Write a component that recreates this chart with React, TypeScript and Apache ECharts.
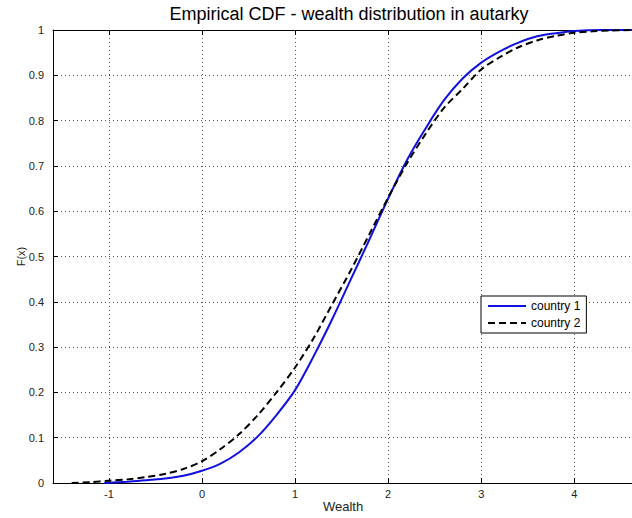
import React, { useEffect, useRef } from "react";
import * as echarts from "echarts";

const titleText = "Empirical CDF - wealth distribution in autarky";
const xName = "Wealth";
const yName = "F(x)";
const seriesNames = ["country 1", "country 2"];

// country 1 (blue, solid)
const wealth1 = [-1.05, -0.8, -0.6, -0.4, -0.2, 0, 0.2, 0.4, 0.6, 0.8, 1.0, 1.2, 1.4, 1.6, 1.8, 2.0, 2.2, 2.4, 2.6, 2.8, 3.0, 3.2, 3.4, 3.6, 3.8, 4.0, 4.3, 4.63];
const cdf1 = [0, 0.003, 0.006, 0.01, 0.016, 0.027, 0.043, 0.068, 0.103, 0.15, 0.205, 0.28, 0.362, 0.45, 0.538, 0.628, 0.712, 0.782, 0.845, 0.893, 0.928, 0.953, 0.972, 0.986, 0.993, 0.998, 1.0, 1.0];

// country 2 (black, dashed)
const wealth2 = [-1.4, -1.2, -1.0, -0.8, -0.6, -0.4, -0.2, 0, 0.2, 0.4, 0.6, 0.8, 1.0, 1.2, 1.4, 1.6, 1.8, 2.0, 2.2, 2.4, 2.6, 2.8, 3.0, 3.2, 3.4, 3.6, 3.8, 4.0, 4.2, 4.4, 4.63];
const cdf2 = [0, 0.002, 0.005, 0.008, 0.013, 0.02, 0.031, 0.048, 0.075, 0.108, 0.15, 0.2, 0.255, 0.32, 0.395, 0.47, 0.55, 0.63, 0.705, 0.77, 0.828, 0.87, 0.913, 0.94, 0.962, 0.977, 0.987, 0.994, 0.997, 0.999, 1.0];

const FONT = "'Liberation Sans', Arial, sans-serif";

export default function App() {
  const ref = useRef<HTMLDivElement>(null);
  useEffect(() => {
    if (!ref.current) return;
    const chart = echarts.init(ref.current, undefined, { renderer: "svg" });
    const d1 = wealth1.map((x, i) => [x, cdf1[i]]);
    const d2 = wealth2.map((x, i) => [x, cdf2[i]]);
    const gridLine = { show: true, lineStyle: { color: "#555", type: [1, 3], width: 1 } };
    const tick = { show: true, inside: true, length: 5, lineStyle: { color: "#000" } };
    chart.setOption({
      animation: false,
      backgroundColor: "#fff",
      textStyle: { fontFamily: FONT },
      title: {
        text: titleText,
        left: 344,
        textAlign: "center",
        top: 0,
        padding: [5, 5],
        textStyle: { fontFamily: FONT, fontSize: 18, fontWeight: "normal", color: "#000" },
      },
      legend: {
        left: 481,
        top: 296,
        orient: "vertical",
        backgroundColor: "#fff",
        borderColor: "#000",
        borderWidth: 1,
        borderRadius: 0,
        padding: [4, 6, 4, 6],
        itemGap: 5,
        itemWidth: 38,
        itemHeight: 12,
        itemStyle: { opacity: 0, color: "transparent", borderColor: "transparent", borderWidth: 0 },
        textStyle: { fontFamily: FONT, fontSize: 12, color: "#000" },
        data: seriesNames,
      },
      grid: { left: 53, right: -1, top: 30, bottom: 35, containLabel: false, outerBoundsMode: "none" },
      xAxis: [
        {
          type: "value",
          min: -1.6,
          max: 4.63,
          minInterval: 1,
          maxInterval: 1,
          splitNumber: 6,
          name: xName,
          nameLocation: "middle",
          nameGap: 17,
          nameMoveOverlap: false,
          nameTextStyle: { fontFamily: FONT, fontSize: 13, color: "#222", verticalAlign: "top" },
          axisLine: { show: true, onZero: false, lineStyle: { color: "#000", width: 1 } },
          axisTick: tick,
          axisLabel: { showMinLabel: false, showMaxLabel: false, fontFamily: FONT, fontSize: 11, color: "#222", margin: 5 },
          splitLine: gridLine,
        },
        {
          type: "value",
          position: "top",
          min: -1.6,
          max: 4.63,
          minInterval: 1,
          maxInterval: 1,
          splitNumber: 6,
          axisLine: { show: true, onZero: false, lineStyle: { color: "#000", width: 1 } },
          axisTick: tick,
          axisLabel: { show: false },
          splitLine: { show: false },
        },
      ],
      yAxis: {
        type: "value",
        min: 0,
        max: 1,
        interval: 0.1,
        name: yName,
        nameLocation: "middle",
        nameGap: 27,
        nameMoveOverlap: false,
        nameTextStyle: { fontFamily: FONT, fontSize: 11, color: "#222" },
        axisLine: { show: true, onZero: false, lineStyle: { color: "#000", width: 1 } },
        axisTick: tick,
        axisLabel: {
          fontFamily: FONT,
          fontSize: 11,
          color: "#222",
          margin: 9,
          formatter: (v: number) => {
            const s = v.toFixed(1);
            return s.endsWith(".0") ? s.slice(0, -2) : s;
          },
        },
        splitLine: gridLine,
      },
      series: [
        {
          name: seriesNames[0],
          type: "line",
          data: d1,
          symbol: "none",
          smooth: 0.3,
          lineStyle: { color: "#1010e0", width: 2 },
          itemStyle: { color: "#1010e0" },
          z: 3,
        },
        {
          name: seriesNames[1],
          type: "line",
          data: d2,
          symbol: "none",
          smooth: 0.3,
          lineStyle: { color: "#000", width: 2, type: [7, 4] },
          itemStyle: { color: "#000" },
          z: 4,
        },
      ],
    });
    return () => chart.dispose();
  }, []);
  return <div ref={ref} style={{ position: "fixed", left: 0, top: 0, width: 632, height: 518 }} />;
}
